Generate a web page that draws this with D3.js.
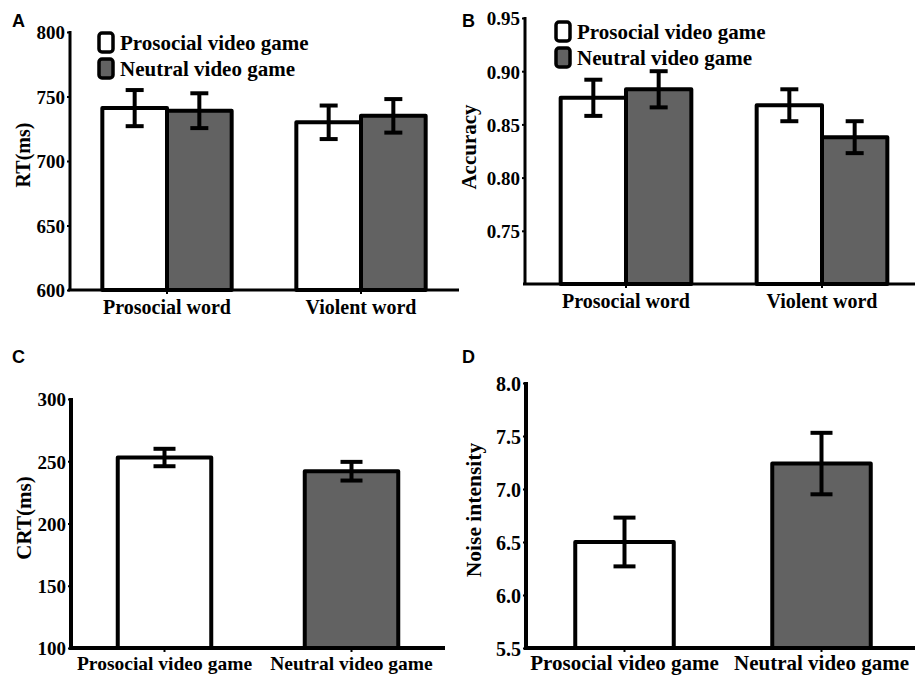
<!DOCTYPE html>
<html>
<head>
<meta charset="utf-8">
<script src="https://cdn.jsdelivr.net/npm/d3@7"></script>
<style>
  body { margin: 0; background: #fff; }
  svg text { font-family: "Liberation Serif", "Times New Roman", serif; font-weight: bold; fill: #000; }
  svg text.panel-label { font-family: "Liberation Sans", Arial, sans-serif; }
</style>
</head>
<body>
<script>
// data
var wordGroups = ["Prosocial word", "Violent word"];
var gameGroups = ["Prosocial video game", "Neutral video game"];
var seriesNames = ["Prosocial video game", "Neutral video game"];
var seriesFill = ["#ffffff", "#626262"];

var rtMeans = [[741, 739], [730, 735]];
var rtErr = [[14, 13.5], [13, 13]];
var rtTicks = [600, 650, 700, 750, 800];

var accMeans = [[0.875, 0.883], [0.868, 0.838]];
var accErr = [[0.017, 0.017], [0.015, 0.015]];
var accTicks = [0.75, 0.80, 0.85, 0.90, 0.95];

var crtMeans = [253, 242];
var crtErr = [7, 7.5];
var crtTicks = [100, 150, 200, 250, 300];

var noiseMeans = [6.5, 7.24];
var noiseErr = [0.23, 0.29];
var noiseTicks = [5.5, 6.0, 6.5, 7.0, 7.5, 8.0];

var svg = d3.select("body").append("svg")
  .attr("width", 915)
  .attr("height", 676);

// draw one panel
function drawPanel(p) {
  var g = svg.append("g");
  var y = d3.scaleLinear().domain(p.domain).range([p.bottom, p.top]);
  var x0 = d3.scaleBand().domain(p.groups).range(p.bandRange)
    .paddingInner(p.padIn).paddingOuter(p.padOut);

  var bars = [];
  p.groups.forEach(function(gr, i) {
    if (p.grouped) {
      var x1 = d3.scaleBand().domain(seriesNames).range([0, x0.bandwidth()]).paddingOuter(0.5);
      seriesNames.forEach(function(s, j) {
        bars.push({x: x0(gr) + x1(s), w: x1.bandwidth(), v: p.means[i][j], e: p.errs[i][j], fill: seriesFill[j]});
      });
    } else {
      bars.push({x: x0(gr), w: x0.bandwidth(), v: p.means[i], e: p.errs[i], fill: seriesFill[i]});
    }
  });

  g.selectAll("rect.bar").data(bars).enter().append("rect")
    .attr("class", "bar")
    .attr("x", function(d) { return d.x; })
    .attr("y", function(d) { return y(d.v); })
    .attr("width", function(d) { return d.w; })
    .attr("height", function(d) { return p.bottom - y(d.v); })
    .attr("fill", function(d) { return d.fill; })
    .attr("stroke", "#000")
    .attr("stroke-width", p.barStroke)
    .attr("stroke-linejoin", "round");

  // error bars
  var eb = g.selectAll("g.err").data(bars).enter().append("g").attr("class", "err")
    .attr("stroke", "#000").attr("stroke-width", 4);
  eb.append("line")
    .attr("x1", function(d) { return d.x + d.w / 2; })
    .attr("x2", function(d) { return d.x + d.w / 2; })
    .attr("y1", function(d) { return y(d.v + d.e); })
    .attr("y2", function(d) { return y(d.v - d.e); });
  [1, -1].forEach(function(sign) {
    eb.append("line")
      .attr("x1", function(d) { return d.x + d.w / 2 - p.cap / 2; })
      .attr("x2", function(d) { return d.x + d.w / 2 + p.cap / 2; })
      .attr("y1", function(d) { return y(d.v + sign * d.e); })
      .attr("y2", function(d) { return y(d.v + sign * d.e); });
  });

  // y axis
  var yAxis = d3.axisLeft(y).tickValues(p.ticks).tickSize(3).tickSizeOuter(0).tickPadding(2)
    .tickFormat(p.fmt);
  var ya = g.append("g").attr("transform", "translate(" + p.left + ",0)").call(yAxis)
    .attr("font-family", null).attr("font-size", null);
  ya.select(".domain").remove();
  ya.selectAll(".tick line").attr("stroke-width", 2);
  ya.selectAll(".tick text").attr("font-size", p.tickFont).attr("dy", "0.36em");
  g.append("line")
    .attr("x1", p.left).attr("x2", p.left)
    .attr("y1", y(p.domain[1]) - 1).attr("y2", p.bottom)
    .attr("stroke", "#000").attr("stroke-width", p.axisStroke);

  // x axis
  var xAxis = d3.axisBottom(x0).tickSize(4).tickSizeOuter(0).tickFormat("");
  var xa = g.append("g").attr("transform", "translate(0," + p.bottom + ")").call(xAxis);
  xa.select(".domain").remove();
  xa.selectAll(".tick line").attr("stroke-width", 2);
  g.append("line")
    .attr("x1", p.left - 2).attr("x2", p.right)
    .attr("y1", p.bottom).attr("y2", p.bottom)
    .attr("stroke", "#000").attr("stroke-width", p.axisStroke);

  g.selectAll("text.cat").data(p.groups).enter().append("text")
    .attr("class", "cat")
    .attr("x", function(d) { return x0(d) + x0.bandwidth() / 2; })
    .attr("y", p.catY)
    .attr("text-anchor", "middle")
    .attr("font-size", p.catFont)
    .text(function(d) { return d; });

  // y title
  g.append("text")
    .attr("transform", "translate(" + p.titleX + "," + p.titleY + ") rotate(-90)")
    .attr("text-anchor", "middle")
    .attr("font-size", p.titleFont)
    .text(p.title);

  // panel letter
  g.append("text").attr("class", "panel-label")
    .attr("x", p.labelX).attr("y", p.labelY)
    .attr("font-size", 18)
    .text(p.label);

  // legend
  if (p.legend) {
    var lg = g.selectAll("g.leg").data(seriesNames).enter().append("g").attr("class", "leg");
    lg.append("rect")
      .attr("x", p.legend.x)
      .attr("y", function(d, i) { return p.legend.y + i * p.legend.step; })
      .attr("width", 14).attr("height", 19).attr("rx", 3)
      .attr("fill", function(d, i) { return seriesFill[i]; })
      .attr("stroke", "#000").attr("stroke-width", 3.5);
    lg.append("text")
      .attr("x", p.legend.x + 21)
      .attr("y", function(d, i) { return p.legend.y + 17 + i * p.legend.step; })
      .attr("font-size", 21)
      .text(function(d) { return d; });
  }
}

drawPanel({
  label: "A", labelX: 12, labelY: 27,
  groups: wordGroups, grouped: true, means: rtMeans, errs: rtErr,
  domain: [600, 800], ticks: rtTicks, fmt: d3.format("d"),
  top: 32, bottom: 290, left: 70, right: 459,
  bandRange: [70, 458], padIn: 0, padOut: 0,
  barStroke: 4, axisStroke: 3, cap: 18, tickFont: 19,
  catY: 314, catFont: 20,
  title: "RT(ms)", titleX: 30, titleY: 155, titleFont: 20,
  legend: {x: 99, y: 33, step: 26}
});

drawPanel({
  label: "B", labelX: 462, labelY: 27,
  groups: wordGroups, grouped: true, means: accMeans, errs: accErr,
  domain: [0.70, 0.95], ticks: accTicks, fmt: d3.format(".2f"),
  top: 18, bottom: 284, left: 525, right: 915,
  bandRange: [528, 920], padIn: 0, padOut: 0,
  barStroke: 4, axisStroke: 3, cap: 18, tickFont: 19,
  catY: 308, catFont: 20,
  title: "Accuracy", titleX: 476, titleY: 147, titleFont: 21,
  legend: {x: 556, y: 22, step: 26}
});

drawPanel({
  label: "C", labelX: 12, labelY: 363,
  groups: gameGroups, grouped: false, means: crtMeans, errs: crtErr,
  domain: [100, 300], ticks: crtTicks, fmt: d3.format("d"),
  top: 399, bottom: 648, left: 71, right: 445,
  bandRange: [71, 445], padIn: 0.5, padOut: 0.25,
  barStroke: 4, axisStroke: 4, cap: 22, tickFont: 19,
  catY: 670, catFont: 19.5,
  title: "CRT(ms)", titleX: 31, titleY: 518, titleFont: 21,
  legend: null
});

drawPanel({
  label: "D", labelX: 462, labelY: 363,
  groups: gameGroups, grouped: false, means: noiseMeans, errs: noiseErr,
  domain: [5.5, 8.0], ticks: noiseTicks, fmt: d3.format(".1f"),
  top: 383, bottom: 648, left: 526, right: 915,
  bandRange: [526, 920], padIn: 0.5, padOut: 0.25,
  barStroke: 4, axisStroke: 4, cap: 22, tickFont: 20,
  catY: 670, catFont: 21,
  title: "Noise intensity", titleX: 481, titleY: 510, titleFont: 21.5,
  legend: null
});
</script>
</body>
</html>
